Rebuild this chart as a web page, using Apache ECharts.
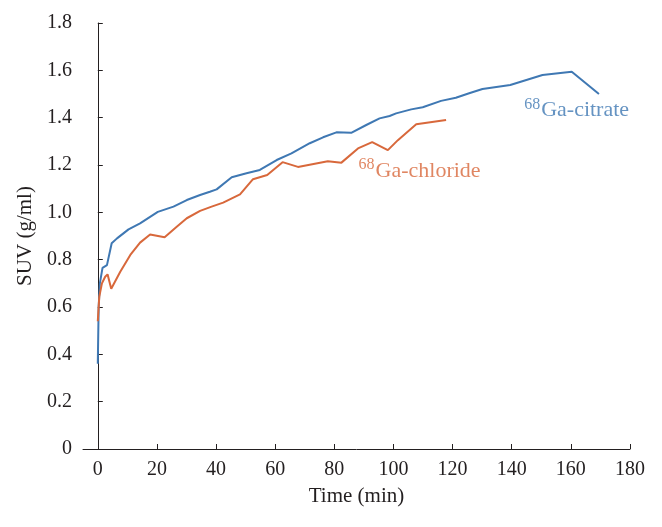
<!DOCTYPE html>
<html>
<head>
<meta charset="utf-8">
<script src="https://cdn.jsdelivr.net/npm/echarts@6/dist/echarts.min.js"></script>
<style>html,body{margin:0;padding:0;background:#fff}#c{width:662px;height:527px}</style>
</head>
<body>
<div id="c"></div>
<script>
// Time (min) and SUV (g/ml)
var citrateTime = [0, 0.3, 0.7, 1.6, 3.1, 4.7, 6.5, 10.4, 14.3, 20.3, 25.6, 30.1, 34.6, 37.9, 40.2, 45.3, 50.3, 54.8, 60.5, 65.5, 71.7, 76.2, 80.7, 85.7, 90.8, 95.3, 98.7, 100.9, 106, 109.9, 116.1, 121.1, 125.6, 130.1, 139.5, 150.4, 160.3, 169.5];
var citrateSUV  = [0.36, 0.60, 0.70, 0.765, 0.777, 0.869, 0.89, 0.928, 0.953, 1.002, 1.024, 1.052, 1.073, 1.087, 1.097, 1.148, 1.165, 1.179, 1.221, 1.249, 1.292, 1.317, 1.338, 1.336, 1.369, 1.397, 1.407, 1.418, 1.435, 1.444, 1.471, 1.484, 1.503, 1.521, 1.538, 1.58, 1.594, 1.50];
var chlorideTime = [0, 0.5, 1.4, 2.5, 3.3, 4.55, 7.6, 11, 14.3, 17.7, 22.6, 26.7, 30.1, 34.6, 38.5, 42.4, 48.1, 52.5, 57.3, 62.5, 67.7, 77.8, 82.4, 88, 92.8, 98.1, 101.5, 107.7, 117.8];
var chlorideSUV  = [0.54, 0.643, 0.70, 0.728, 0.738, 0.677, 0.749, 0.82, 0.872, 0.906, 0.895, 0.939, 0.975, 1.006, 1.024, 1.041, 1.076, 1.14, 1.158, 1.212, 1.192, 1.216, 1.21, 1.27, 1.297, 1.263, 1.305, 1.372, 1.39];
var xTicks = [0, 20, 40, 60, 80, 100, 120, 140, 160, 180];
var citrateName = ['68', 'Ga-citrate'];
var chlorideName = ['68', 'Ga-chloride'];
var citrateLabelAt = [144.2, 1.43];
var chlorideLabelAt = [88.2, 1.174];

var blue = '#3f78b3';
var orange = '#d8683b';
var ink = '#231f20';
var font = '"Liberation Serif", "DejaVu Serif", serif';

function pairs(xs, ys) { return xs.map(function (x, i) { return [x, ys[i]]; }); }
function richLabel(color) {
  return {
    sup: { fontFamily: font, fontSize: 16, color: color, padding: [0, 1, 12, 0] },
    main: { fontFamily: font, fontSize: 22, color: color }
  };
}

var chart = echarts.init(document.getElementById('c'), null, { renderer: 'canvas' });
chart.setOption({
  animation: false,
  backgroundColor: '#fff',
  grid: { left: 83, right: 32, top: 23, bottom: 78 },
  xAxis: {
    type: 'value', min: -5, max: 180,
    name: 'Time (min)', nameLocation: 'middle', nameGap: 37,
    nameTextStyle: { fontFamily: font, fontSize: 21, color: ink },
    axisLine: { lineStyle: { color: ink, width: 1 } },
    axisTick: { show: true, inside: true, length: 5, customValues: xTicks, lineStyle: { color: ink } },
    axisLabel: { customValues: xTicks, fontFamily: font, fontSize: 20, color: ink, margin: 11 },
    splitLine: { show: false }
  },
  yAxis: {
    type: 'value', min: 0, max: 1.8, interval: 0.2,
    name: 'SUV (g/ml)', nameLocation: 'middle', nameGap: 47, nameRotate: 90,
    nameTextStyle: { fontFamily: font, fontSize: 21, color: ink },
    axisLine: { show: true, lineStyle: { color: ink, width: 1 } },
    axisTick: { show: true, inside: true, length: 5, lineStyle: { color: ink } },
    axisLabel: { fontFamily: font, fontSize: 20, color: ink, margin: 11,
      formatter: function (v) { return v === 0 ? '0' : v.toFixed(1); } },
    splitLine: { show: false }
  },
  series: [
    { name: 'citrate', type: 'line', data: pairs(citrateTime, citrateSUV), showSymbol: false,
      lineStyle: { color: blue, width: 2 }, itemStyle: { color: blue } },
    { name: 'chloride', type: 'line', data: pairs(chlorideTime, chlorideSUV), showSymbol: false,
      lineStyle: { color: orange, width: 2 }, itemStyle: { color: orange } },
    { name: 'labels', type: 'scatter', symbolSize: 0, silent: true,
      data: [
        { value: citrateLabelAt, label: { show: true, position: [0, 0], align: 'left', verticalAlign: 'middle',
          formatter: '{sup|' + citrateName[0] + '}{main|' + citrateName[1] + '}', rich: richLabel(blue) } },
        { value: chlorideLabelAt, label: { show: true, position: [0, 0], align: 'left', verticalAlign: 'middle',
          formatter: '{sup|' + chlorideName[0] + '}{main|' + chlorideName[1] + '}', rich: richLabel(orange) } }
      ] }
  ]
});
</script>
</body>
</html>
